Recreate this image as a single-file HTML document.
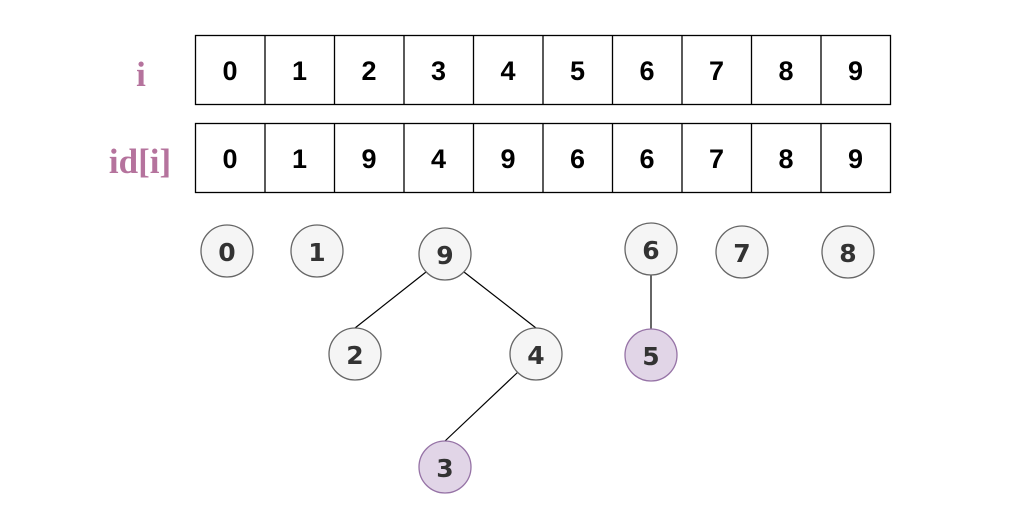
<!DOCTYPE html>
<html><head><style>
html,body{margin:0;padding:0;background:#fff;}
</style></head><body>
<svg width="1024" height="501" viewBox="0 0 1024 501" xmlns="http://www.w3.org/2000/svg">
<rect width="1024" height="501" fill="#fff"/>
<g font-family="Liberation Serif, serif" font-weight="bold" font-size="35" fill="#b5739d" text-anchor="middle">
<text x="141" y="86">i</text>
<text x="140" y="173">id[i]</text>
</g>
<g stroke="#000" stroke-width="1.3" fill="#fff">
<rect x="195.5" y="35.5" width="695" height="69"/>
<rect x="195.5" y="123.5" width="695" height="69"/>
<path d="M265 35v69M334.5 35v69M404 35v69M473.5 35v69M543 35v69M612.5 35v69M682 35v69M751.5 35v69M821 35v69
M265 123v69M334.5 123v69M404 123v69M473.5 123v69M543 123v69M612.5 123v69M682 123v69M751.5 123v69M821 123v69"/>
</g>
<g font-family="Liberation Sans, sans-serif" font-weight="bold" font-size="27" fill="#000" text-anchor="middle">
<text x="230" y="80">0</text><text x="299.5" y="80">1</text><text x="369" y="80">2</text><text x="438.5" y="80">3</text><text x="508" y="80">4</text><text x="577.5" y="80">5</text><text x="647" y="80">6</text><text x="716.5" y="80">7</text><text x="786" y="80">8</text><text x="855.5" y="80">9</text>
<text x="230" y="168">0</text><text x="299.5" y="168">1</text><text x="369" y="168">9</text><text x="438.5" y="168">4</text><text x="508" y="168">9</text><text x="577.5" y="168">6</text><text x="647" y="168">6</text><text x="716.5" y="168">7</text><text x="786" y="168">8</text><text x="855.5" y="168">9</text>
</g>
<g stroke="#000" stroke-width="1.2">
<line x1="426" y1="272" x2="355" y2="328"/>
<line x1="464" y1="272" x2="536" y2="328"/>
<line x1="518" y1="372" x2="445" y2="441"/>
<line x1="651" y1="275" x2="651" y2="329"/>
</g>
<g stroke="#666" stroke-width="1.3" fill="#f5f5f5">
<circle cx="227" cy="251" r="26"/>
<circle cx="317" cy="251" r="26"/>
<circle cx="445" cy="254" r="26"/>
<circle cx="651" cy="249" r="26"/>
<circle cx="742" cy="252" r="26"/>
<circle cx="848" cy="252" r="26"/>
<circle cx="355" cy="354" r="26"/>
<circle cx="536" cy="354" r="26"/>
</g>
<g stroke="#9673a6" stroke-width="1.3" fill="#e1d5e7">
<circle cx="651" cy="355" r="26"/>
<circle cx="445" cy="467" r="26"/>
</g>
<g font-family="DejaVu Sans, sans-serif" font-weight="bold" font-size="25" fill="#333" text-anchor="middle">
<text x="227" y="261">0</text><text x="317" y="261">1</text><text x="445" y="264">9</text><text x="651" y="259">6</text><text x="742" y="262">7</text><text x="848" y="262">8</text><text x="355" y="364">2</text><text x="536" y="364">4</text><text x="651" y="365">5</text><text x="445" y="477">3</text>
</g>
</svg>
</body></html>
